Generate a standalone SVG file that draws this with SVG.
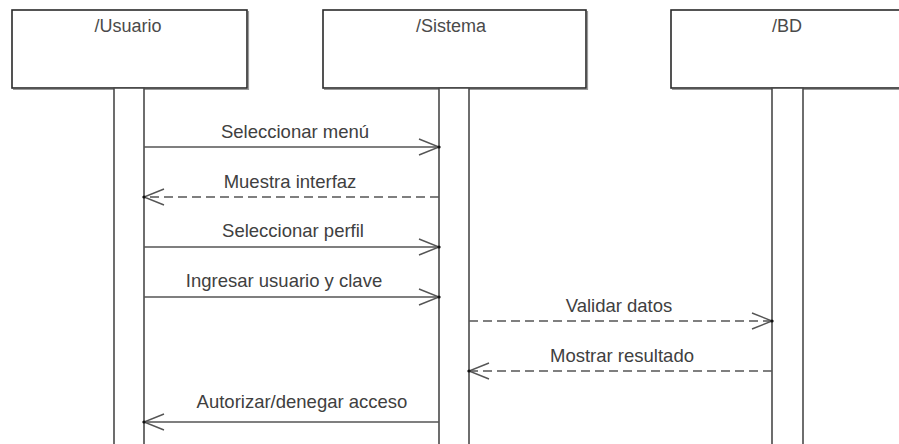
<svg xmlns="http://www.w3.org/2000/svg" width="899" height="444" viewBox="0 0 899 444">
  <style>
    .head { fill: #ffffff; stroke: #2a2a2a; stroke-width: 1.6; }
    .shadow { fill: none; stroke: #9a9a9a; stroke-width: 1.2; }
    .bar { fill: #ffffff; stroke: #4a4a4a; stroke-width: 1.6; }
    .name { font-family: "Liberation Sans", Arial, sans-serif; font-size: 18px; fill: #4a4a4a; text-anchor: middle; }
    .msg { fill: none; stroke: #555555; stroke-width: 1.4; }
    .dashed { stroke-dasharray: 9 5; }
    .label { font-family: "Liberation Sans", Arial, sans-serif; font-size: 18.5px; fill: #404040; text-anchor: middle; }
  </style>
  <defs>
    <marker id="open" viewBox="-22 -10 24 20" markerWidth="24" markerHeight="20" refX="0" refY="0" orient="auto" markerUnits="userSpaceOnUse">
      <path d="M-20,-8 L0,0 L-20,8" fill="none" stroke="#555555" stroke-width="1.4"/>
      <circle cx="0" cy="0" r="1.6" fill="#111111"/>
    </marker>
  </defs>
  <rect width="899" height="444" fill="#ffffff"/>

  <g id="usuario">
    <polyline class="shadow" points="13,89.5 248.5,89.5 248.5,11"/>
    <rect class="head" x="12" y="10" width="235" height="78"/>
    <text class="name" x="128" y="32">/Usuario</text>
    <rect class="bar" x="114" y="88" width="30" height="362"/>
  </g>

  <g id="sistema">
    <polyline class="shadow" points="324,89.5 587.5,89.5 587.5,11"/>
    <rect class="head" x="323" y="10" width="263" height="78"/>
    <text class="name" x="451" y="32">/Sistema</text>
    <rect class="bar" x="439" y="88" width="30" height="362"/>
  </g>

  <g id="bd">
    <polyline class="shadow" points="672,89.5 905,89.5"/>
    <rect class="head" x="671" y="10" width="234" height="78"/>
    <text class="name" x="787" y="32">/BD</text>
    <rect class="bar" x="772" y="88" width="31" height="362"/>
  </g>

  <g id="connectors">
    <line class="msg" x1="144" y1="147" x2="439" y2="147" marker-end="url(#open)"/>
    <text class="label" x="295" y="138">Seleccionar menú</text>

    <line class="msg dashed" x1="439" y1="197" x2="144" y2="197" marker-end="url(#open)"/>
    <text class="label" x="290" y="188">Muestra interfaz</text>

    <line class="msg" x1="144" y1="247" x2="439" y2="247" marker-end="url(#open)"/>
    <text class="label" x="293" y="237">Seleccionar perfil</text>

    <line class="msg" x1="144" y1="297" x2="439" y2="297" marker-end="url(#open)"/>
    <text class="label" x="284" y="287">Ingresar usuario y clave</text>

    <line class="msg dashed" x1="469" y1="321" x2="772" y2="321" marker-end="url(#open)"/>
    <text class="label" x="619" y="312">Validar datos</text>

    <line class="msg dashed" x1="772" y1="371" x2="469" y2="371" marker-end="url(#open)"/>
    <text class="label" x="622" y="362">Mostrar resultado</text>

    <line class="msg" x1="439" y1="422" x2="144" y2="422" marker-end="url(#open)"/>
    <text class="label" x="302" y="408">Autorizar/denegar acceso</text>
  </g>
</svg>
